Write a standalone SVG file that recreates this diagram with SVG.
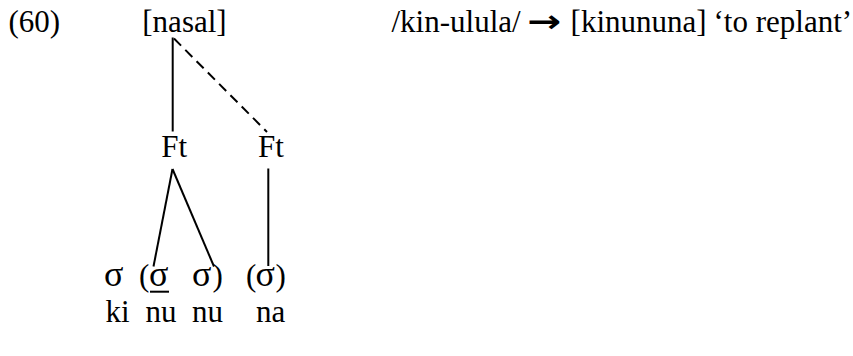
<svg xmlns="http://www.w3.org/2000/svg" width="853" height="356" viewBox="0 0 853 356">
<style>
text{font-family:"Liberation Serif","Times New Roman",serif;font-size:31px;fill:#000}
.sg{font-size:36px}
.ln{stroke:#000;stroke-width:2;fill:none}
.dash{stroke-dasharray:10 6}
</style>
<rect width="853" height="356" fill="#fff"/>
<g id="label"><text x="8.5" y="31.5">(60)</text></g>
<g id="nasal"><text x="142.3" y="31.5">[nasal]</text></g>
<g id="gloss">
<text x="391.5" y="31.5">/kin-ulula/</text>
<text x="527" y="31.5" style="font-family:'DejaVu Sans',sans-serif;font-weight:bold" textLength="34" lengthAdjust="spacingAndGlyphs">→</text>
<text x="570.6" y="31.5">[kinununa]</text>
<text x="713.5" y="31.5">‘to replant’</text>
</g>
<g id="ft1"><text x="161.3" y="157">Ft</text></g>
<g id="ft2"><text x="258" y="157">Ft</text></g>
<g id="syl1"><text class="sg" x="104" y="285.5">σ</text></g>
<g id="syl2"><text x="139" y="285.5">(</text><text class="sg" x="149" y="285.5">σ</text><line class="ln" x1="150" y1="291.7" x2="169" y2="291.7"/></g>
<g id="syl3"><text class="sg" x="192" y="285.5">σ</text><text x="212.5" y="285.5">)</text></g>
<g id="syl4"><text x="246" y="285.5">(</text><text class="sg" x="255.5" y="285.5">σ</text><text x="275.5" y="285.5">)</text></g>
<g id="segments">
<text x="105.5" y="321.5">ki</text>
<text x="145.5" y="321.5">nu</text>
<text x="192" y="321.5">nu</text>
<text x="256" y="321.5">na</text>
</g>
<g id="connectors">
<line class="ln" x1="172.7" y1="37.5" x2="172.7" y2="131.5"/>
<line class="ln dash" x1="174" y1="38.5" x2="267" y2="132"/>
<line class="ln" x1="172.5" y1="169" x2="153.5" y2="266.5"/>
<line class="ln" x1="172.5" y1="169" x2="214" y2="266.5"/>
<line class="ln" x1="268.3" y1="168.5" x2="268.3" y2="266"/>
</g>
</svg>
